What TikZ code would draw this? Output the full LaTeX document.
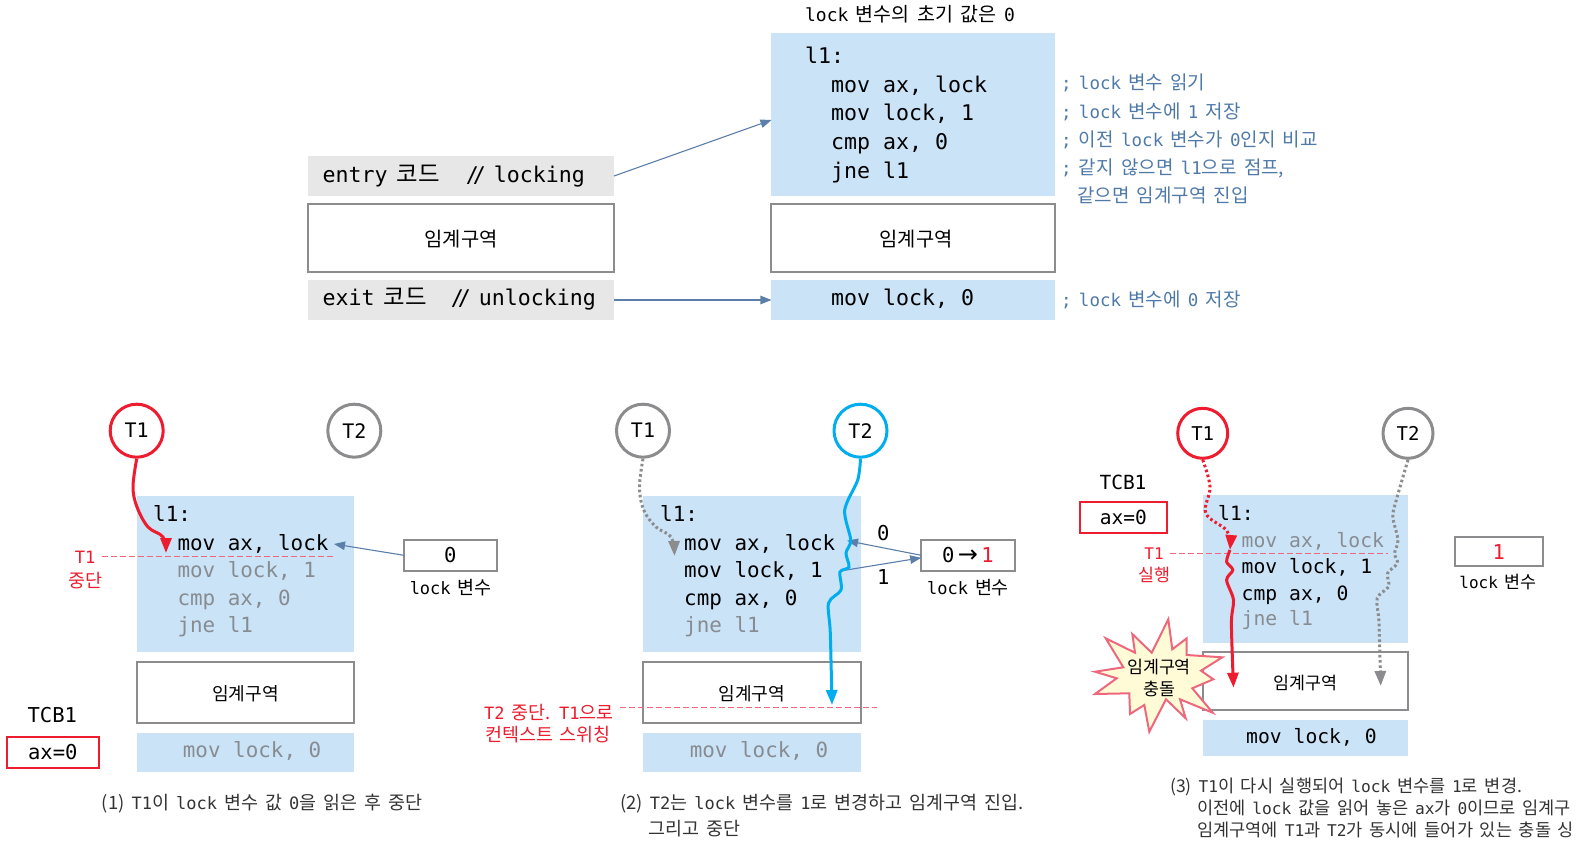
\documentclass[tikz,border=0pt]{standalone}
\usepackage{fontspec}
\setmainfont{DejaVu Sans Mono}
\newfontfamily\krfont[Scale=1.085,WordSpace=1.7]{Noto Sans CJK KR}
\newfontfamily\symfont{DejaVu Sans}
\newcommand{\hg}[1]{{\krfont #1}}
\newcommand{\sz}[1]{\fontsize{#1}{#1}\selectfont}
\definecolor{myBlue}{RGB}{202,227,247}
\definecolor{myGray}{RGB}{231,231,231}
\definecolor{myEdge}{RGB}{140,140,143}
\definecolor{myFade}{RGB}{135,140,146}
\definecolor{myRed}{RGB}{237,28,46}
\definecolor{myPink}{RGB}{238,104,125}
\definecolor{myStar}{RGB}{255,251,214}
\definecolor{mySky}{RGB}{0,174,239}
\definecolor{mySteel}{RGB}{91,127,168}
\definecolor{myNote}{RGB}{79,122,168}
\usetikzlibrary{arrows.meta,calc}
\tikzset{
  blockfill/.style={fill=myBlue,shape=rectangle,inner sep=0,outer sep=0},
  grayfill/.style={fill=myGray,shape=rectangle,inner sep=0,outer sep=0,minimum width=306pt,minimum height=40pt},
  csbox/.style={draw=myEdge,line width=2pt,fill=white,shape=rectangle,inner sep=0,outer sep=0,font=\sz{16.7},text height=16.8pt,text depth=0pt},
  valbox/.style={draw=myEdge,line width=1.8pt,fill=white,shape=rectangle,inner sep=0,outer sep=0,font=\sz{20.5}},
  tcbbox/.style={draw=myRed,line width=2pt,fill=white,shape=rectangle,inner sep=0,outer sep=0,font=\sz{20.5}},
  thr/.style={draw=myEdge,line width=3pt,fill=white,shape=circle,minimum size=53pt,inner sep=0,outer sep=1.5pt,font=\sz{20}},
  thrred/.style={thr,draw=myRed},
  thrsky/.style={thr,draw=mySky},
  code/.style={anchor=west,inner sep=0,yshift=-3.5pt,text height=1.5ex,text depth=0.25ex,font=\sz{20.9}},
  codeS/.style={code,font=\sz{19.7}},
  codeL/.style={code,font=\sz{21.6}},
  fade/.style={text=myFade},
  note/.style={anchor=west,inner sep=0,yshift=-3.5pt,text=myNote,text height=1.5ex,text depth=0.25ex,font=\sz{17.5}},
  label/.style={inner sep=0,font=\sz{17}},
  redlabel/.style={inner sep=0,text=myRed,font=\sz{17}},
  caption/.style={anchor=west,inner sep=0,yshift=-3.5pt,text=black!80,text height=1.5ex,text depth=0.25ex,font=\sz{17}},
  captionS/.style={caption,font=\sz{16.2}},
  link/.style={draw=mySteel,line width=1.1pt,-{Stealth[length=11pt,width=8.5pt,inset=0pt]}},
  cut/.style={draw=myPink,line width=1pt,dash pattern=on 6pt off 3pt},
  run/.style={line width=3pt,-{Stealth[length=15pt,width=11pt,inset=0pt]}},
  wait/.style={run,line width=3pt,dash pattern=on 2.6pt off 2.6pt},
}
\begin{document}
\begin{tikzpicture}[x=1pt,y=-1pt]
  \useasboundingbox (0,0) rectangle (1593,845);
  % upper part
  \node (entry) [grayfill] at (461,176) {};
  \node (exit) [grayfill] at (461,300) {};
  \node (cs) [csbox,minimum width=306pt,minimum height=68pt,font=\sz{18.3}] at (461,238) {\hg{임계구역}};
  \node (lockcode) [blockfill,minimum width=283.5pt,minimum height=163pt] at (913.2,114.5) {};
  \node (cscode) [csbox,minimum width=283.5pt,minimum height=68pt,font=\sz{18.3}] at (913.2,238) {\hspace{6pt}\hg{임계구역}};
  \node (unlock) [blockfill,minimum width=283.5pt,minimum height=40pt] at (913.2,300) {};
  \node (entrytxt) [codeL,anchor=west] at (322.5,176) {entry\hg{ 코드}\hspace{26pt}/\kern-6pt/\hspace{8pt}locking};
  \node (exittxt) [codeL,anchor=west] at (322.5,299) {exit\hg{ 코드}\hspace{24pt}/\kern-6pt/\hspace{8pt}unlocking};
  \node (head) [inner sep=0,font=\sz{18}] at (910,14) {lock\hg{ 변수의 초기 값은 }0};
  \node (l1) [codeL] at (805,57) {l1:};
  \node (mov1) [codeL] at (831,86) {mov ax, lock};
  \node (mov2) [codeL] at (831,114) {mov lock, 1};
  \node (cmp) [codeL] at (831,143) {cmp ax, 0};
  \node (jne) [codeL] at (831,172) {jne l1};
  \node (mov3) [codeL] at (831,299) {mov lock, 0};
  \node (n1) [note] at (1061,83) {;\hg{ }lock\hg{ 변수 읽기}};
  \node (n2) [note] at (1061,112) {;\hg{ }lock\hg{ 변수에 }1\hg{ 저장}};
  \node (n3) [note] at (1061,140) {;\hg{ 이전 }lock\hg{ 변수가 }0\hg{인지 비교}};
  \node (n4) [note] at (1061,168) {;\hg{ 같지 않으면 }l1\hg{으로 점프,}};
  \node (n5) [note] at (1077,196) {\hg{같으면 임계구역 진입}};
  \node (n6) [note] at (1061,300) {;\hg{ }lock\hg{ 변수에 }0\hg{ 저장}};
  \path [link] (entry.east) -- ($(lockcode.west)+(0,5.5)$);
  \path [link] (exit.east) -- (unlock.west);
  % case 1
  \node (a) [blockfill,minimum width=217.6pt,minimum height=155.7pt] at (245.5,573.8) {};
  \node (acs) [csbox,minimum width=217.6pt,minimum height=61pt] at (245.5,692.2) {\hg{임계구역}};
  \node (ab) [blockfill,minimum width=217.6pt,minimum height=38.4pt] at (245.5,752.5) {};
  \node (at1) [thrred] at (136.7,430.7) {T1};
  \node (at2) [thr] at (354.3,430.7) {T2};
  \node (al) [code] at (153,515) {l1:};
  \node (am1) [code] at (177.3,543.3) {mov ax, lock};
  \node (am2) [code,fade] at (177.3,571) {mov lock, 1};
  \node (ac) [code,fade] at (177.3,599) {cmp ax, 0};
  \node (aj) [code,fade] at (177.3,626) {jne l1};
  \node (am3) [code,fade] at (182.7,751) {mov lock, 0};
  \node (aval) [valbox,minimum width=92.7pt,minimum height=30.7pt] at (450.3,555.3) {0};
  \node (avar) [label] at (450.7,587.3) {lock\hg{ 변수}};
  \node (atcb) [inner sep=0,font=\sz{20.5}] at (52.3,715) {TCB1};
  \node (aax) [tcbbox,minimum width=92.3pt,minimum height=31pt] at (52.8,752.2) {ax=0};
  \node (astop1) [redlabel] at (85,557.3) {T1};
  \node (astop2) [redlabel] at (85,580.7) {\hg{중단}};
  \node (acap) [caption] at (101.7,803) {\hg{(1) }T1\hg{이 }lock\hg{ 변수 값 }0\hg{을 읽은 후 중단}};
  \coordinate (acut1) at (101.7,556);
  \coordinate (acut2) at (332.7,556);
  \coordinate (atip) at (334,544);
  \path [cut] (acut1) -- (acut2);
  \path [link] (aval.west) -- (atip);
  \draw [run,draw=myRed] plot [smooth,tension=0.6] coordinates {(at1.south) (133,487) (137,507) (148,527) (163,537) (166,553)};
  % case 2
  \node (b) [blockfill,minimum width=218.3pt,minimum height=155.7pt] at (751.8,573.8) {};
  \node (bcs) [csbox,minimum width=218.3pt,minimum height=61pt] at (751.8,692.2) {\hg{임계구역}};
  \node (bb) [blockfill,minimum width=218.3pt,minimum height=38.4pt] at (751.8,752.5) {};
  \node (bt1) [thr] at (643,430.7) {T1};
  \node (bt2) [thrsky] at (860.5,430.7) {T2};
  \node (bl) [code] at (660,515) {l1:};
  \node (bm1) [code] at (684,543.3) {mov ax, lock};
  \node (bm2) [code] at (684,571) {mov lock, 1};
  \node (bc) [code] at (684,599) {cmp ax, 0};
  \node (bj) [code,fade] at (684,626) {jne l1};
  \node (bm3) [code,fade] at (689.6,751) {mov lock, 0};
  \node (bval) [valbox,minimum width=93.4pt,minimum height=30.7pt] at (967.9,555.3) {0\,{\symfont\sz{24}→}\,\textcolor{myRed}{1}};
  \node (bvar) [label] at (968,587.3) {lock\hg{ 변수}};
  \node (bzero) [inner sep=0,font=\sz{20.5}] at (883.3,532.7) {0};
  \node (bone) [inner sep=0,font=\sz{20.5}] at (883.3,577.3) {1};
  \node (bstop1) [redlabel,anchor=west] at (484,712.7) {T2\hg{ 중단. }T1\hg{으로}};
  \node (bstop2) [redlabel] at (548,734.3) {\hg{컨텍스트 스위칭}};
  \node (bcap) [caption] at (620,803) {\hg{(2) }T2\hg{는 }lock\hg{ 변수를 }1\hg{로 변경하고 임계구역 진입.}};
  \node (bcap2) [caption] at (648,829) {\hg{그리고 중단}};
  \coordinate (bcut1) at (620,707.3);
  \coordinate (bcut2) at (877,707.3);
  \coordinate (bfrom) at (842,570.7);
  \coordinate (btip) at (847,540.7);
  \path [cut] (bcut1) -- (bcut2);
  \path [link] (bval.west) -- (btip);
  \path [link] (bfrom) -- ($(bval.west)+(0,2.5)$);
  \draw [wait,draw=myEdge] plot [smooth,tension=0.6] coordinates {(bt1.south) (639.5,487) (643.7,510) (656,527) (671,537) (674.5,556)};
  \draw [run,draw=mySky] plot [smooth,tension=0.5] coordinates {(bt2.south) (857.7,480) (844.7,510) (850.7,540) (846,553) (849,567) (840,572) (841,590) (828.6,603) (830.3,633) (832,705)};
  % case 3
  \node (c) [blockfill,minimum width=205.7pt,minimum height=148.6pt] at (1305.5,569) {};
  \node (ccs) [csbox,minimum width=205.7pt,minimum height=57.7pt,font=\sz{16}] at (1305.5,681.2) {\hg{임계구역}};
  \node (cb) [blockfill,minimum width=205.7pt,minimum height=36pt] at (1305.5,738) {};
  \node (ct1) [thrred,minimum size=50pt,font=\sz{19}] at (1202.7,433.3) {T1};
  \node (ct2) [thr,minimum size=50pt,font=\sz{19}] at (1408,433.3) {T2};
  \node (cl) [codeS] at (1218,514) {l1:};
  \node (cm1) [codeS,fade] at (1241.5,541) {mov ax, lock};
  \node (cm2) [codeS] at (1241.5,567) {mov lock, 1};
  \node (cc) [codeS] at (1241.5,593.3) {cmp ax, 0};
  \node (cj) [codeS,fade] at (1241.5,619) {jne l1};
  \node (cm3) [codeS] at (1246,736.7) {mov lock, 0};
  \node (cval) [valbox,minimum width=87.7pt,minimum height=29pt] at (1498.8,551.8) {\textcolor{myRed}{1}};
  \node (cvar) [label,font=\sz{16}] at (1498,582.3) {lock\hg{ 변수}};
  \node (ctcb) [inner sep=0,font=\sz{19.5}] at (1123,482.7) {TCB1};
  \node (cax) [tcbbox,font=\sz{19.5},minimum width=87.2pt,minimum height=30.4pt] at (1123.4,517.5) {ax=0};
  \node (cgo1) [redlabel,font=\sz{16}] at (1154,553.7) {T1};
  \node (cgo2) [redlabel,font=\sz{16}] at (1154,575) {\hg{실행}};
  \node (ccap) [captionS] at (1170,785.7) {\hg{(3) }T1\hg{이 다시 실행되어 }lock\hg{ 변수를 }1\hg{로 변경.}};
  \node (ccap2) [captionS] at (1197,807.3) {\hg{이전에 }lock\hg{ 값을 읽어 놓은 }ax\hg{가 }0\hg{이므로 임계구}};
  \node (ccap3) [captionS] at (1197,829.3) {\hg{임계구역에 }T1\hg{과 }T2\hg{가 동시에 들어가 있는 충돌 싱}};
  \coordinate (ccut1) at (1170,553.7);
  \coordinate (ccut2) at (1387.6,553.7);
  \coordinate (cjoin) at (1230,550);
  \path [cut] (ccut1) -- (ccut2);
  \draw [wait,draw=myRed] plot [smooth,tension=0.6] coordinates {(ct1.south) (1210,486.7) (1205.8,513.3) (1227,531) (cjoin)};
  \draw [run,draw=myRed] plot [smooth,tension=0.5] coordinates {(cjoin) (1226.6,561.7) (1232.8,570) (1226.6,580) (1233.5,600) (1231.4,623) (1233.5,687.7)};
  \draw [wait,draw=myEdge] plot [smooth,tension=0.5] coordinates {(ct2.south) (1396.3,500) (1392.8,516.7) (1398,540) (1394.5,553.3) (1397.3,563.3) (1387.6,573.3) (1388.6,586.7) (1377.2,598.3) (1379,623.3) (1380.7,686)};
  \draw [draw=myPink,line width=2pt,fill=myStar,line join=miter] (1168.3,619.3) -- (1172.3,649.3) -- (1186.7,638.3) -- (1186.7,655) -- (1222.3,657.3) -- (1201,670.7) -- (1213.3,679.3) -- (1192.3,688.3) -- (1212.7,712.7) -- (1180,699.3) -- (1185.7,718.3) -- (1166,699.3) -- (1149.3,731.7) -- (1144.3,705) -- (1130,714) -- (1129.3,693.3) -- (1095,694) -- (1116.7,678.3) -- (1095,671.7) -- (1123.3,667.3) -- (1105.7,638.3) -- (1135,652.7) -- (1132.3,634) -- (1151.7,652.7) -- cycle;
  \node (hit1) [inner sep=0,font=\sz{16}] at (1159,667.3) {\hg{임계구역}};
  \node (hit2) [inner sep=0,font=\sz{16}] at (1159,689.3) {\hg{충돌}};
\end{tikzpicture}
\end{document}
